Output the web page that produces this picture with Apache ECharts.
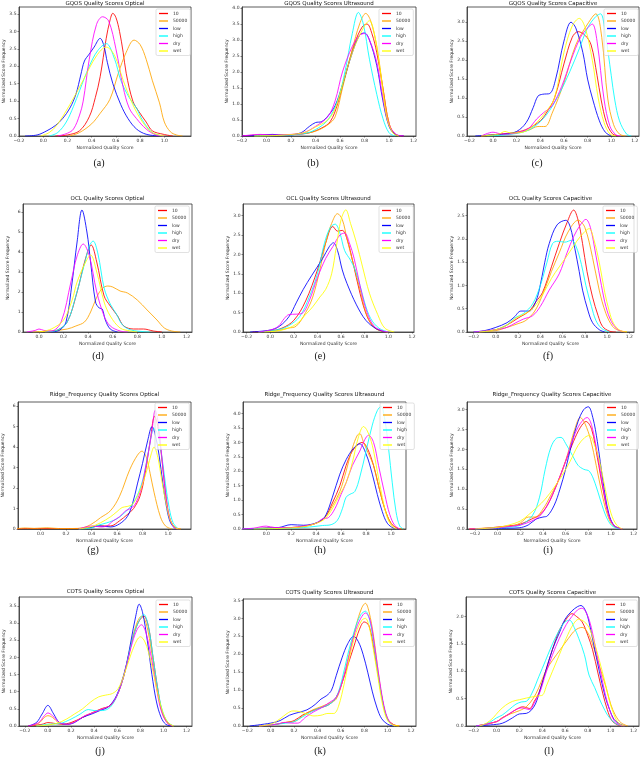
<!DOCTYPE html>
<html>
<head>
<meta charset="utf-8">
<title>Quality score distributions</title>
<script src="https://cdn.jsdelivr.net/npm/echarts@6/dist/echarts.min.js"></script>
<style>
  html, body { margin: 0; padding: 0; background: #fff; }
  #chart { width: 640px; height: 761px; }
</style>
</head>
<body>
<div id="chart"></div>
<script>
// legend order, same in every panel
const seriesNames = ['10', '50000', 'low', 'high', 'dry', 'wet'];
const seriesColors = ['#ff0000', '#ffa500', '#0000ff', '#00ffff', '#ff00ff', '#ffff00'];

const titles = [
  'GQOS Quality Scores Optical', 'GQOS Quality Scores Ultrasound', 'GQOS Quality Scores Capacitive',
  'OCL Quality Scores Optical', 'OCL Quality Scores Ultrasound', 'OCL Quality Scores Capacitive',
  'Ridge_Frequency Quality Scores Optical', 'Ridge_Frequency Quality Scores Ultrasound', 'Ridge_Frequency Quality Scores Capacitive',
  'COTS Quality Scores Optical', 'COTS Quality Scores Ultrasound', 'COTS Quality Scores Capacitive'
];
const captions = ['(a)', '(b)', '(c)', '(d)', '(e)', '(f)', '(g)', '(h)', '(i)', '(j)', '(k)', '(l)'];

// curves per panel, in seriesNames order; points are [score, density]
const gqosOptical = [
  [[0.1,0],[0.2,0.03],[0.3,0.15],[0.38,0.55],[0.43,1.1],[0.47,1.7],[0.52,2.8],[0.55,3.3],[0.575,3.52],[0.6,3.4],[0.63,3.0],[0.66,2.4],[0.685,1.8],[0.74,1.0],[0.79,0.7],[0.85,0.4],[0.9,0.15],[0.99,0.05],[1.07,0]],
  [[0.22,0],[0.3,0.1],[0.4,0.35],[0.47,0.65],[0.55,1.05],[0.62,1.8],[0.685,2.4],[0.75,2.75],[0.8,2.62],[0.85,2.2],[0.9,1.6],[0.96,0.95],[1.0,0.4],[1.05,0.12],[1.1,0.03],[1.15,0]],
  [[-0.15,0],[-0.05,0.03],[0.03,0.15],[0.1,0.3],[0.16,0.5],[0.22,0.8],[0.27,1.2],[0.31,1.75],[0.34,2.15],[0.38,2.35],[0.42,2.55],[0.47,2.8],[0.5,2.6],[0.53,2.1],[0.575,1.5],[0.64,0.9],[0.7,0.5],[0.77,0.2],[0.85,0.05],[0.96,0]],
  [[0.05,0],[0.12,0.1],[0.19,0.4],[0.25,0.85],[0.3,1.3],[0.38,2.0],[0.45,2.45],[0.52,2.65],[0.59,2.2],[0.64,1.6],[0.71,1.1],[0.77,0.8],[0.82,0.45],[0.9,0.1],[0.99,0]],
  [[0.12,0],[0.2,0.08],[0.25,0.2],[0.3,0.6],[0.33,1.0],[0.38,2.2],[0.44,3.2],[0.49,3.42],[0.54,3.3],[0.6,2.5],[0.66,1.4],[0.71,0.8],[0.77,0.5],[0.85,0.2],[0.93,0.03],[1.0,0]],
  [[-0.02,0],[0.05,0.1],[0.11,0.3],[0.22,0.9],[0.33,1.6],[0.44,2.3],[0.52,2.55],[0.59,2.3],[0.66,1.6],[0.74,0.9],[0.82,0.4],[0.9,0.1],[1.0,0]]
];
const gqosUltrasound = [
  [[-0.2,0],[-0.05,0.03],[0.1,0.03],[0.25,0.05],[0.35,0.1],[0.45,0.25],[0.52,0.45],[0.58,1.0],[0.65,2.0],[0.72,2.9],[0.78,3.4],[0.82,3.5],[0.86,3.2],[0.9,2.6],[0.95,1.5],[1.0,0.4],[1.05,0.05],[1.12,0]],
  [[-0.1,0],[0.1,0.02],[0.3,0.08],[0.4,0.15],[0.5,0.35],[0.56,0.6],[0.62,1.5],[0.7,2.7],[0.76,3.5],[0.81,3.83],[0.85,3.6],[0.9,2.8],[0.95,1.5],[1.0,0.4],[1.05,0.05],[1.1,0]],
  [[-0.2,0],[-0.05,0.03],[0.05,0.05],[0.15,0.02],[0.28,0.1],[0.35,0.3],[0.4,0.42],[0.45,0.45],[0.5,0.62],[0.56,0.95],[0.62,1.6],[0.7,2.6],[0.76,3.15],[0.8,3.22],[0.84,3.0],[0.9,2.2],[0.95,1.1],[1.0,0.3],[1.05,0.05],[1.12,0]],
  [[-0.1,0],[0.1,0.02],[0.3,0.07],[0.4,0.2],[0.5,0.5],[0.58,1.1],[0.64,2.0],[0.7,3.2],[0.75,3.86],[0.79,3.5],[0.84,2.4],[0.9,1.3],[0.95,0.55],[1.0,0.1],[1.05,0]],
  [[-0.2,0],[-0.05,0.05],[0.05,0.03],[0.2,0.05],[0.3,0.1],[0.4,0.3],[0.5,0.6],[0.56,1.1],[0.62,2.0],[0.7,2.8],[0.76,3.15],[0.8,3.2],[0.84,3.0],[0.9,2.3],[0.95,1.2],[1.0,0.35],[1.06,0.05],[1.12,0]],
  [[-0.1,0],[0.1,0.02],[0.3,0.1],[0.4,0.28],[0.5,0.5],[0.56,0.85],[0.62,1.6],[0.7,2.6],[0.78,3.3],[0.84,3.6],[0.88,3.2],[0.93,2.0],[0.98,0.6],[1.03,0.1],[1.08,0]]
];
const gqosCapacitive = [
  [[-0.1,0],[0.05,0.05],[0.2,0.1],[0.3,0.2],[0.4,0.4],[0.45,0.6],[0.52,1.0],[0.6,1.9],[0.67,2.6],[0.72,2.75],[0.78,2.65],[0.83,2.4],[0.88,1.6],[0.915,0.95],[0.96,0.35],[1.01,0.06],[1.06,0]],
  [[-0.1,0],[0.05,0.03],[0.2,0.08],[0.3,0.15],[0.38,0.25],[0.44,0.25],[0.5,0.6],[0.6,1.4],[0.7,2.4],[0.8,2.95],[0.87,3.22],[0.92,2.6],[0.97,1.0],[1.02,0.3],[1.07,0.05],[1.12,0]],
  [[-0.15,0],[0.0,0.03],[0.1,0.05],[0.2,0.12],[0.28,0.35],[0.34,0.75],[0.38,1.05],[0.42,1.1],[0.48,1.12],[0.53,1.5],[0.6,2.5],[0.66,3.0],[0.7,2.85],[0.76,2.2],[0.8,1.5],[0.845,0.95],[0.9,0.4],[0.95,0.1],[1.0,0]],
  [[-0.05,0],[0.1,0.03],[0.25,0.1],[0.35,0.25],[0.45,0.55],[0.55,1.05],[0.65,1.7],[0.73,2.3],[0.8,2.85],[0.87,3.15],[0.91,3.22],[0.95,2.7],[1.0,1.6],[1.03,0.95],[1.07,0.4],[1.13,0.05],[1.17,0]],
  [[-0.1,0],[0.0,0.1],[0.08,0.05],[0.2,0.08],[0.3,0.2],[0.37,0.45],[0.43,0.62],[0.5,0.8],[0.58,1.3],[0.66,2.0],[0.74,2.6],[0.8,2.85],[0.84,2.95],[0.88,2.5],[0.94,0.95],[0.99,0.25],[1.04,0.03],[1.08,0]],
  [[-0.1,0],[0.05,0.05],[0.1,0.12],[0.15,0.08],[0.25,0.1],[0.35,0.3],[0.45,0.65],[0.52,1.0],[0.6,2.2],[0.67,2.9],[0.73,3.1],[0.78,2.85],[0.84,2.0],[0.89,1.0],[0.94,0.35],[0.99,0.05],[1.04,0]]
];
const oclOptical = [
  [[0.05,0],[0.15,0.1],[0.23,0.5],[0.31,2.0],[0.38,3.7],[0.425,4.35],[0.47,3.5],[0.53,1.8],[0.58,1.3],[0.64,0.8],[0.69,0.3],[0.77,0.15],[0.85,0.15],[0.93,0.05],[1.0,0]],
  [[-0.05,0],[0.1,0.05],[0.23,0.15],[0.3,0.3],[0.37,0.5],[0.42,1.0],[0.46,1.6],[0.51,2.15],[0.56,2.3],[0.6,2.25],[0.66,2.05],[0.72,1.95],[0.8,1.6],[0.88,1.1],[0.96,0.6],[1.02,0.2],[1.08,0.05],[1.15,0]],
  [[0.1,0],[0.17,0.1],[0.22,0.5],[0.27,2.5],[0.31,4.5],[0.35,6.1],[0.39,5.0],[0.42,3.5],[0.46,1.5],[0.49,1.2],[0.515,1.15],[0.54,0.6],[0.58,0.15],[0.64,0]],
  [[0.05,0],[0.15,0.1],[0.23,0.5],[0.3,1.8],[0.37,3.4],[0.41,4.3],[0.44,4.55],[0.48,3.9],[0.53,2.2],[0.58,1.4],[0.63,0.9],[0.68,0.35],[0.75,0.1],[0.85,0.02],[0.9,0]],
  [[-0.1,0],[-0.03,0.08],[0.0,0.15],[0.04,0.08],[0.1,0.05],[0.18,0.5],[0.26,2.5],[0.31,3.8],[0.36,4.4],[0.41,3.8],[0.47,2.0],[0.53,0.8],[0.58,0.3],[0.66,0.05],[0.72,0]],
  [[0.0,0],[0.1,0.15],[0.2,0.6],[0.27,1.6],[0.31,2.5],[0.38,3.5],[0.42,3.85],[0.47,3.0],[0.53,1.5],[0.58,0.8],[0.66,0.2],[0.745,0.05],[0.8,0]]
];
const oclUltrasound = [
  [[-0.15,0],[0.0,0.03],[0.1,0.1],[0.2,0.3],[0.3,0.8],[0.4,1.6],[0.47,2.3],[0.53,2.72],[0.57,2.6],[0.61,2.62],[0.65,2.4],[0.7,1.8],[0.76,1.0],[0.82,0.4],[0.88,0.12],[0.95,0.02],[1.0,0]],
  [[-0.1,0],[0.05,0.03],[0.15,0.1],[0.22,0.15],[0.3,0.5],[0.36,0.9],[0.42,1.6],[0.47,2.3],[0.52,2.8],[0.57,3.05],[0.61,2.9],[0.65,2.4],[0.7,1.8],[0.76,1.1],[0.81,0.5],[0.87,0.15],[0.93,0.03],[1.0,0]],
  [[-0.17,0],[0.0,0.05],[0.08,0.15],[0.16,0.4],[0.22,0.75],[0.28,1.1],[0.35,1.45],[0.445,1.9],[0.5,2.2],[0.535,2.3],[0.57,2.1],[0.61,1.6],[0.65,1.25],[0.73,0.7],[0.81,0.3],[0.9,0.08],[0.98,0]],
  [[-0.1,0],[0.05,0.05],[0.15,0.15],[0.25,0.4],[0.33,0.9],[0.4,1.5],[0.46,2.3],[0.51,2.7],[0.55,2.78],[0.59,2.55],[0.63,2.1],[0.68,1.85],[0.72,1.6],[0.76,1.2],[0.8,0.75],[0.85,0.35],[0.92,0.1],[1.0,0]],
  [[-0.1,0],[0.0,0.05],[0.07,0.15],[0.12,0.35],[0.16,0.45],[0.22,0.46],[0.27,0.48],[0.33,0.8],[0.4,1.4],[0.47,1.9],[0.53,2.2],[0.59,2.5],[0.63,2.55],[0.67,2.3],[0.71,1.9],[0.76,1.2],[0.82,0.5],[0.88,0.15],[0.95,0.03],[1.0,0]],
  [[-0.05,0],[0.1,0.05],[0.22,0.2],[0.3,0.45],[0.36,0.65],[0.42,0.9],[0.47,1.1],[0.52,1.5],[0.56,2.2],[0.6,2.9],[0.64,3.15],[0.68,2.8],[0.73,2.3],[0.78,1.7],[0.84,1.0],[0.91,0.45],[0.97,0.1],[1.05,0]]
];
const oclCapacitive = [
  [[-0.2,0],[0.0,0.05],[0.1,0.15],[0.2,0.3],[0.3,0.45],[0.36,0.65],[0.42,0.85],[0.5,1.4],[0.57,1.9],[0.64,2.35],[0.7,2.62],[0.74,2.4],[0.78,1.9],[0.82,1.3],[0.87,0.75],[0.92,0.35],[0.96,0.12],[1.02,0.02],[1.08,0]],
  [[-0.2,0],[0.0,0.03],[0.1,0.1],[0.2,0.18],[0.27,0.25],[0.35,0.45],[0.42,0.8],[0.5,1.3],[0.57,1.7],[0.65,2.15],[0.74,2.4],[0.8,2.25],[0.87,1.6],[0.93,0.9],[0.99,0.4],[1.05,0.12],[1.1,0.04],[1.18,0]],
  [[-0.2,0],[-0.1,0.03],[0.0,0.1],[0.1,0.2],[0.165,0.32],[0.225,0.45],[0.3,0.45],[0.35,0.6],[0.39,0.9],[0.44,1.5],[0.48,1.9],[0.55,2.3],[0.63,2.4],[0.67,2.25],[0.71,1.8],[0.75,1.3],[0.78,0.9],[0.83,0.45],[0.87,0.2],[0.93,0.05],[0.98,0]],
  [[-0.2,0],[0.0,0.05],[0.1,0.15],[0.17,0.3],[0.25,0.4],[0.33,0.6],[0.4,1.0],[0.46,1.5],[0.51,1.9],[0.56,1.95],[0.62,1.93],[0.68,1.97],[0.72,1.85],[0.77,1.45],[0.81,1.0],[0.86,0.55],[0.9,0.25],[0.95,0.08],[1.02,0]],
  [[-0.2,0],[0.0,0.05],[0.1,0.1],[0.18,0.2],[0.25,0.28],[0.33,0.35],[0.4,0.55],[0.48,0.9],[0.57,1.25],[0.64,1.7],[0.7,2.05],[0.76,2.3],[0.81,2.42],[0.85,2.25],[0.9,1.65],[0.95,1.0],[0.99,0.55],[1.04,0.22],[1.1,0.05],[1.16,0]],
  [[-0.15,0],[0.0,0.05],[0.1,0.15],[0.18,0.3],[0.25,0.38],[0.33,0.5],[0.42,0.8],[0.5,1.15],[0.57,1.4],[0.63,1.6],[0.7,1.85],[0.76,2.05],[0.84,2.22],[0.88,2.0],[0.93,1.5],[0.98,0.85],[1.02,0.45],[1.06,0.18],[1.12,0.03],[1.18,0]]
];
const rfOptical = [
  [[-0.2,0],[-0.1,0.02],[0.2,0.02],[0.38,0.05],[0.45,0.15],[0.5,0.15],[0.55,0.15],[0.62,0.4],[0.68,0.7],[0.73,1.0],[0.78,1.6],[0.82,2.7],[0.86,4.3],[0.895,5.5],[0.92,5.0],[0.95,3.5],[0.98,1.8],[1.01,0.6],[1.05,0.1],[1.1,0]],
  [[-0.2,0],[-0.12,0.05],[-0.05,0.03],[0.05,0.06],[0.15,0.02],[0.3,0.03],[0.39,0.2],[0.47,0.55],[0.55,0.9],[0.62,1.6],[0.7,2.9],[0.76,3.6],[0.795,3.8],[0.83,3.5],[0.86,2.7],[0.89,1.8],[0.94,0.6],[0.98,0.15],[1.03,0]],
  [[0.3,0],[0.4,0.08],[0.46,0.15],[0.55,0.1],[0.62,0.25],[0.68,0.6],[0.72,1.2],[0.76,2.2],[0.8,3.2],[0.84,4.3],[0.875,5.0],[0.9,4.6],[0.93,3.6],[0.96,2.2],[0.99,1.0],[1.02,0.3],[1.06,0]],
  [[0.3,0],[0.4,0.05],[0.46,0.2],[0.52,0.3],[0.6,0.5],[0.66,0.8],[0.72,1.2],[0.77,1.8],[0.81,2.6],[0.85,3.9],[0.89,4.9],[0.92,4.6],[0.95,3.6],[0.98,2.2],[1.01,1.0],[1.04,0.3],[1.08,0]],
  [[0.3,0],[0.41,0.15],[0.47,0.1],[0.52,0.15],[0.57,0.4],[0.62,0.6],[0.67,0.9],[0.72,1.05],[0.75,1.3],[0.79,2.0],[0.83,3.2],[0.87,4.6],[0.9,5.8],[0.92,5.3],[0.95,3.6],[0.98,1.8],[1.01,0.6],[1.05,0.05],[1.08,0]],
  [[0.3,0],[0.39,0.1],[0.47,0.3],[0.55,0.6],[0.6,0.85],[0.64,1.05],[0.68,1.1],[0.72,1.2],[0.76,1.6],[0.8,2.2],[0.84,3.0],[0.87,3.7],[0.89,4.0],[0.92,3.5],[0.95,2.4],[0.99,1.1],[1.02,0.4],[1.06,0.05],[1.1,0]]
];
const rfUltrasound = [
  [[-0.2,0],[0.0,0.03],[0.2,0.05],[0.3,0.1],[0.4,0.2],[0.47,0.4],[0.53,0.9],[0.59,1.5],[0.64,2.2],[0.69,2.7],[0.74,2.95],[0.77,3.0],[0.81,2.8],[0.86,2.2],[0.9,1.5],[0.95,0.7],[1.0,0.2],[1.05,0.03],[1.1,0]],
  [[-0.2,0],[0.0,0.02],[0.2,0.04],[0.3,0.08],[0.4,0.2],[0.47,0.4],[0.53,0.8],[0.59,1.3],[0.64,2.0],[0.69,2.8],[0.73,3.25],[0.75,3.3],[0.78,3.0],[0.82,2.6],[0.86,2.2],[0.9,1.5],[0.95,0.7],[1.0,0.2],[1.05,0.03],[1.1,0]],
  [[-0.2,0],[0.0,0.03],[0.1,0.05],[0.2,0.15],[0.3,0.13],[0.37,0.17],[0.44,0.3],[0.48,0.5],[0.53,1.1],[0.59,1.9],[0.64,2.4],[0.7,2.8],[0.75,2.95],[0.8,2.6],[0.85,1.9],[0.89,1.2],[0.93,0.6],[0.97,0.2],[1.02,0.03],[1.06,0]],
  [[-0.2,0],[0.1,0.02],[0.3,0.05],[0.45,0.12],[0.52,0.15],[0.57,0.3],[0.61,0.7],[0.64,1.1],[0.67,1.2],[0.71,1.3],[0.75,1.8],[0.8,2.7],[0.85,3.6],[0.89,4.1],[0.92,4.25],[0.95,3.8],[0.98,2.8],[1.01,1.6],[1.04,0.6],[1.07,0.1],[1.1,0]],
  [[-0.2,0],[-0.1,0.03],[0.0,0.1],[0.07,0.05],[0.2,0.05],[0.3,0.1],[0.4,0.2],[0.45,0.35],[0.5,0.4],[0.55,0.7],[0.6,1.2],[0.64,1.6],[0.69,2.2],[0.75,2.7],[0.79,3.1],[0.82,3.25],[0.86,3.0],[0.9,2.2],[0.95,1.2],[0.99,0.5],[1.03,0.12],[1.07,0]],
  [[-0.1,0],[0.1,0.02],[0.3,0.08],[0.4,0.2],[0.47,0.35],[0.53,0.7],[0.59,1.2],[0.64,1.6],[0.69,2.3],[0.74,3.2],[0.78,3.55],[0.81,3.4],[0.85,2.9],[0.89,2.0],[0.93,1.1],[0.97,0.4],[1.01,0.08],[1.05,0]]
];
const rfCapacitive = [
  [[-0.25,0],[-0.1,0.02],[0.0,0.05],[0.1,0.08],[0.2,0.12],[0.3,0.25],[0.37,0.35],[0.44,0.6],[0.52,1.1],[0.6,1.7],[0.67,2.2],[0.73,2.55],[0.78,2.7],[0.83,2.5],[0.88,1.8],[0.93,1.0],[0.98,0.35],[1.03,0.08],[1.1,0]],
  [[-0.25,0],[0.0,0.04],[0.1,0.06],[0.2,0.15],[0.27,0.3],[0.33,0.3],[0.4,0.5],[0.47,0.85],[0.55,1.3],[0.62,1.9],[0.68,2.5],[0.73,2.8],[0.77,2.65],[0.82,2.25],[0.87,1.6],[0.92,0.9],[0.97,0.35],[1.02,0.08],[1.1,0]],
  [[-0.2,0],[0.1,0.02],[0.19,0.03],[0.27,0.1],[0.34,0.25],[0.4,0.3],[0.44,0.33],[0.5,0.6],[0.55,1.0],[0.6,1.5],[0.65,2.1],[0.71,2.7],[0.76,3.0],[0.8,3.07],[0.84,2.8],[0.88,2.2],[0.93,1.2],[0.98,0.4],[1.03,0.08],[1.1,0]],
  [[-0.2,0],[0.0,0.03],[0.13,0.05],[0.22,0.12],[0.31,0.35],[0.37,0.8],[0.42,1.5],[0.47,2.05],[0.52,2.28],[0.56,2.3],[0.6,2.15],[0.66,1.85],[0.71,1.6],[0.76,1.5],[0.81,1.45],[0.86,1.15],[0.91,0.7],[0.96,0.3],[1.01,0.08],[1.08,0]],
  [[-0.25,0],[0.0,0.03],[0.1,0.06],[0.2,0.1],[0.3,0.2],[0.37,0.32],[0.44,0.6],[0.52,1.1],[0.6,1.7],[0.67,2.3],[0.73,2.65],[0.79,2.8],[0.83,2.6],[0.88,1.9],[0.93,1.05],[0.98,0.35],[1.03,0.08],[1.1,0]],
  [[-0.2,0],[0.0,0.04],[0.1,0.1],[0.2,0.2],[0.27,0.35],[0.35,0.55],[0.42,0.75],[0.5,1.05],[0.57,1.35],[0.64,1.7],[0.71,2.1],[0.77,2.3],[0.81,2.35],[0.85,2.15],[0.9,1.7],[0.95,1.0],[1.0,0.4],[1.05,0.1],[1.1,0]]
];
const cotsOptical = [
  [[-0.17,0],[-0.05,0.05],[0.0,0.1],[0.05,0.08],[0.12,0.05],[0.2,0.1],[0.3,0.25],[0.38,0.38],[0.46,0.5],[0.54,0.6],[0.6,0.9],[0.66,1.5],[0.73,2.5],[0.78,3.0],[0.83,3.2],[0.87,2.9],[0.91,2.0],[0.95,1.1],[0.99,0.4],[1.04,0.08],[1.09,0]],
  [[-0.17,0],[-0.08,0.08],[-0.03,0.25],[0.0,0.3],[0.04,0.25],[0.1,0.08],[0.17,0.05],[0.25,0.15],[0.32,0.3],[0.4,0.4],[0.47,0.5],[0.54,0.6],[0.6,0.9],[0.66,1.5],[0.72,2.4],[0.77,3.0],[0.81,3.2],[0.85,3.0],[0.9,2.1],[0.94,1.2],[0.98,0.5],[1.03,0.1],[1.08,0]],
  [[-0.17,0],[-0.1,0.1],[-0.05,0.35],[0.0,0.6],[0.05,0.35],[0.1,0.1],[0.17,0.05],[0.23,0.1],[0.3,0.25],[0.38,0.35],[0.45,0.45],[0.52,0.55],[0.58,0.8],[0.63,1.2],[0.68,1.8],[0.72,2.5],[0.76,3.2],[0.79,3.55],[0.82,3.3],[0.86,2.5],[0.9,1.5],[0.94,0.7],[0.98,0.25],[1.02,0.05],[1.07,0]],
  [[-0.1,0],[0.0,0.05],[0.1,0.07],[0.2,0.2],[0.28,0.35],[0.35,0.48],[0.4,0.45],[0.47,0.45],[0.54,0.55],[0.6,0.9],[0.66,1.5],[0.73,2.5],[0.78,3.0],[0.83,3.25],[0.87,2.9],[0.91,2.0],[0.95,1.1],[0.99,0.45],[1.04,0.1],[1.09,0]],
  [[-0.17,0],[-0.08,0.1],[-0.03,0.3],[0.0,0.38],[0.04,0.3],[0.1,0.1],[0.17,0.05],[0.25,0.15],[0.32,0.3],[0.4,0.4],[0.47,0.5],[0.54,0.6],[0.6,0.9],[0.66,1.5],[0.72,2.3],[0.77,2.8],[0.81,2.95],[0.85,2.7],[0.9,1.9],[0.94,1.1],[0.98,0.45],[1.03,0.1],[1.08,0]],
  [[-0.1,0],[0.0,0.03],[0.08,0.08],[0.16,0.2],[0.23,0.35],[0.3,0.5],[0.37,0.7],[0.44,0.85],[0.5,0.9],[0.56,0.95],[0.61,1.1],[0.66,1.5],[0.72,2.1],[0.77,2.5],[0.8,2.6],[0.84,2.45],[0.89,1.9],[0.94,1.1],[0.99,0.45],[1.04,0.1],[1.09,0]]
];
const cotsUltrasound = [
  [[-0.1,0],[0.05,0.05],[0.13,0.1],[0.2,0.15],[0.27,0.3],[0.35,0.42],[0.42,0.5],[0.5,0.6],[0.56,0.8],[0.61,1.2],[0.66,1.7],[0.71,2.2],[0.76,2.7],[0.8,2.9],[0.84,2.8],[0.88,2.2],[0.92,1.4],[0.96,0.65],[1.0,0.2],[1.05,0.04],[1.1,0]],
  [[-0.1,0],[0.05,0.05],[0.12,0.1],[0.2,0.12],[0.28,0.3],[0.36,0.45],[0.44,0.55],[0.51,0.65],[0.56,0.75],[0.61,1.2],[0.67,2.0],[0.73,2.8],[0.78,3.3],[0.81,3.42],[0.84,3.2],[0.88,2.5],[0.92,1.5],[0.96,0.65],[1.0,0.2],[1.05,0.04],[1.1,0]],
  [[-0.18,0],[0.0,0.08],[0.08,0.15],[0.16,0.3],[0.24,0.38],[0.31,0.45],[0.38,0.6],[0.43,0.75],[0.48,0.85],[0.52,1.0],[0.56,1.4],[0.61,1.9],[0.66,2.3],[0.71,2.5],[0.75,2.35],[0.79,2.0],[0.83,1.5],[0.87,0.95],[0.91,0.5],[0.95,0.2],[1.0,0.05],[1.05,0]],
  [[-0.1,0],[0.05,0.05],[0.13,0.08],[0.2,0.12],[0.27,0.25],[0.35,0.4],[0.42,0.5],[0.5,0.6],[0.56,0.8],[0.61,1.3],[0.66,2.0],[0.72,2.7],[0.77,3.1],[0.81,3.2],[0.85,2.9],[0.89,2.1],[0.93,1.2],[0.97,0.5],[1.01,0.12],[1.06,0]],
  [[-0.1,0],[0.05,0.05],[0.12,0.1],[0.18,0.08],[0.23,0.08],[0.3,0.25],[0.37,0.4],[0.43,0.5],[0.5,0.65],[0.56,0.8],[0.61,1.2],[0.66,1.8],[0.72,2.6],[0.77,3.0],[0.81,3.15],[0.85,2.95],[0.89,2.2],[0.93,1.3],[0.97,0.55],[1.01,0.15],[1.06,0]],
  [[-0.1,0],[0.0,0.05],[0.08,0.2],[0.14,0.35],[0.19,0.42],[0.25,0.4],[0.31,0.33],[0.37,0.28],[0.43,0.3],[0.49,0.35],[0.54,0.35],[0.58,0.55],[0.63,1.2],[0.68,2.0],[0.73,2.6],[0.78,2.95],[0.81,3.0],[0.84,2.8],[0.88,2.1],[0.92,1.3],[0.96,0.55],[1.0,0.15],[1.05,0.02],[1.1,0]]
];
const cotsCapacitive = [
  [[-0.18,0],[0.0,0.08],[0.05,0.15],[0.11,0.22],[0.17,0.3],[0.23,0.35],[0.29,0.32],[0.33,0.45],[0.37,0.6],[0.43,1.0],[0.49,1.4],[0.55,1.75],[0.61,1.95],[0.66,2.05],[0.7,2.0],[0.75,1.9],[0.8,1.65],[0.84,1.4],[0.89,0.95],[0.93,0.6],[0.97,0.3],[1.01,0.1],[1.06,0.02],[1.1,0]],
  [[-0.18,0],[0.0,0.08],[0.05,0.15],[0.12,0.22],[0.2,0.28],[0.26,0.35],[0.32,0.5],[0.37,0.7],[0.43,1.0],[0.49,1.2],[0.56,1.4],[0.63,1.6],[0.69,1.75],[0.75,1.8],[0.8,1.7],[0.84,1.5],[0.9,1.1],[0.96,0.7],[1.0,0.4],[1.04,0.2],[1.09,0.06],[1.15,0]],
  [[-0.18,0],[0.0,0.03],[0.05,0.05],[0.1,0.1],[0.14,0.15],[0.2,0.22],[0.26,0.23],[0.3,0.28],[0.34,0.4],[0.38,0.65],[0.43,1.0],[0.49,1.4],[0.55,1.7],[0.6,1.95],[0.66,2.1],[0.71,2.18],[0.74,2.2],[0.78,2.1],[0.81,1.9],[0.85,1.5],[0.9,1.0],[0.95,0.55],[0.99,0.3],[1.03,0.12],[1.07,0.05],[1.12,0]],
  [[-0.18,0],[-0.12,0.02],[-0.05,0.08],[0.0,0.15],[0.05,0.2],[0.11,0.3],[0.17,0.4],[0.22,0.44],[0.26,0.45],[0.31,0.6],[0.37,0.9],[0.43,1.2],[0.49,1.5],[0.55,1.75],[0.6,1.9],[0.64,1.93],[0.68,1.8],[0.72,1.6],[0.77,1.3],[0.81,0.93],[0.86,0.7],[0.9,0.5],[0.95,0.28],[0.99,0.15],[1.04,0.05],[1.1,0]],
  [[-0.18,0],[0.0,0.08],[0.05,0.14],[0.11,0.22],[0.17,0.3],[0.22,0.33],[0.29,0.3],[0.33,0.42],[0.38,0.62],[0.43,0.95],[0.49,1.3],[0.55,1.6],[0.61,1.85],[0.66,2.0],[0.71,2.12],[0.75,2.15],[0.79,2.05],[0.83,1.8],[0.87,1.4],[0.91,1.0],[0.95,0.6],[0.99,0.3],[1.03,0.1],[1.08,0.02],[1.12,0]],
  [[-0.15,0],[-0.09,0.05],[-0.03,0.15],[0.02,0.27],[0.08,0.38],[0.14,0.45],[0.2,0.48],[0.26,0.51],[0.31,0.53],[0.36,0.55],[0.4,0.56],[0.44,0.75],[0.49,1.0],[0.55,1.3],[0.61,1.6],[0.67,1.85],[0.72,1.95],[0.77,1.9],[0.81,1.8],[0.86,1.5],[0.9,1.2],[0.95,0.8],[0.99,0.45],[1.03,0.2],[1.07,0.05],[1.12,0]]
];

// tick labels
const xTicksFull = [-0.2, 0, 0.2, 0.4, 0.6, 0.8, 1.0, 1.2];
const xTicksTo10 = [-0.2, 0, 0.2, 0.4, 0.6, 0.8, 1.0];
const xTicksPos12 = [0, 0.2, 0.4, 0.6, 0.8, 1.0, 1.2];
const xTicksPos10 = [0, 0.2, 0.4, 0.6, 0.8, 1.0];
const yTicks20 = [0, 0.5, 1.0, 1.5, 2.0];
const yTicks25 = [0, 0.5, 1.0, 1.5, 2.0, 2.5];
const yTicks30 = [0, 0.5, 1.0, 1.5, 2.0, 2.5, 3.0];
const yTicks35 = [0, 0.5, 1.0, 1.5, 2.0, 2.5, 3.0, 3.5];
const yTicks40 = [0, 0.5, 1.0, 1.5, 2.0, 2.5, 3.0, 3.5, 4.0];
const yTicksInt6 = [0, 1, 2, 3, 4, 5, 6];

const panelData = [gqosOptical, gqosUltrasound, gqosCapacitive, oclOptical, oclUltrasound, oclCapacitive,
  rfOptical, rfUltrasound, rfCapacitive, cotsOptical, cotsUltrasound, cotsCapacitive];
const xTickSets = [xTicksTo10, xTicksFull, xTicksFull, xTicksPos12, xTicksFull, xTicksFull,
  xTicksPos10, xTicksPos10, xTicksFull, xTicksFull, xTicksFull, xTicksFull];
const yTickSets = [yTicks35, yTicks40, yTicks30, yTicksInt6, yTicks30, yTicks25,
  yTicksInt6, yTicks40, yTicks30, yTicks35, yTicks35, yTicks20];

// panel geometry: plot box [left, top, width, height], x range, y max
const layout = [
  { box: [19, 7, 172, 129], xr: [-0.2, 1.22], yMax: 3.7, legend: [156, 9], titleY: 3.5, cap: [99, 163] },
  { box: [242, 7, 174, 129], xr: [-0.2, 1.22], yMax: 4.03, legend: [379, 9], titleY: 3.5, cap: [313, 163] },
  { box: [467, 7, 172, 129], xr: [-0.22, 1.235], yMax: 3.4, legend: [604, 9], titleY: 3.5, cap: [537, 163] },
  { box: [23, 204, 169, 128], xr: [-0.13, 1.245], yMax: 6.4, legend: [155, 206], titleY: 199, cap: [98, 356] },
  { box: [243, 204, 171, 128], xr: [-0.23, 1.217], yMax: 3.3, legend: [379, 206], titleY: 199, cap: [320, 356] },
  { box: [467, 204, 167, 128], xr: [-0.26, 1.243], yMax: 2.75, legend: [603, 206], titleY: 199, cap: [548, 356] },
  { box: [18, 402, 173, 127], xr: [-0.176, 1.18], yMax: 6.2, legend: [155, 403], titleY: 395, cap: [93, 550] },
  { box: [243, 402, 163, 127], xr: [-0.186, 1.12], yMax: 4.4, legend: [380, 403], titleY: 395, cap: [320, 550] },
  { box: [467, 402, 170, 127], xr: [-0.27, 1.23], yMax: 3.19, legend: [604, 403], titleY: 395, cap: [548, 550] },
  { box: [19, 597, 173, 129], xr: [-0.25, 1.247], yMax: 3.76, legend: [156, 600], titleY: 592, cap: [100, 751] },
  { box: [243, 599, 173, 127], xr: [-0.237, 1.243], yMax: 3.54, legend: [380, 600], titleY: 593, cap: [320, 751] },
  { box: [466, 597, 173, 129], xr: [-0.268, 1.248], yMax: 2.355, legend: [603, 600], titleY: 593, cap: [549, 751] }
];

const FONT = 'DejaVu Sans';
const INK = '#333';

// matplotlib style minus sign
const tickText = (v, dec) => (v < 0 ? '\u2212' : '') + Math.abs(v).toFixed(dec);

const chart = echarts.init(document.getElementById('chart'), null, { renderer: 'canvas' });

const grid = layout.map(p => ({
  left: p.box[0], top: p.box[1], width: p.box[2], height: p.box[3],
  show: true, borderColor: INK, borderWidth: 0.8, backgroundColor: 'transparent',
  containLabel: false, outerBoundsMode: 'none'
}));

const xAxis = layout.map((p, i) => ({
  type: 'value', gridIndex: i, min: p.xr[0], max: p.xr[1],
  splitLine: { show: false },
  axisLine: { show: true, onZero: false, lineStyle: { color: INK, width: 0.8 } },
  axisTick: { show: true, length: 1.5, customValues: xTickSets[i], lineStyle: { color: INK, width: 0.6 } },
  axisLabel: {
    customValues: xTickSets[i], fontSize: 4.5, margin: 2, color: INK, fontFamily: FONT,
    formatter: v => tickText(v, 1)
  },
  name: 'Normalized Quality Score', nameLocation: 'middle', nameGap: 9.5, nameMoveOverlap: false,
  nameTextStyle: { fontSize: 4.5, color: INK, fontFamily: FONT }
}));

const yAxis = layout.map((p, i) => {
  const dec = yTickSets[i] === yTicksInt6 ? 0 : 1;
  return {
    type: 'value', gridIndex: i, min: 0, max: p.yMax,
    splitLine: { show: false },
    axisLine: { show: true, onZero: false, lineStyle: { color: INK, width: 0.8 } },
    axisTick: { show: true, length: 1.5, customValues: yTickSets[i], lineStyle: { color: INK, width: 0.6 } },
    axisLabel: {
      customValues: yTickSets[i], fontSize: 4.5, margin: 2.5, color: INK, fontFamily: FONT,
      formatter: v => tickText(v, dec)
    },
    name: 'Normalized Score Frequency', nameLocation: 'middle', nameGap: 13, nameMoveOverlap: false,
    nameTextStyle: { fontSize: 4.5, color: INK, fontFamily: FONT }
  };
});

const series = [];
panelData.forEach((curves, i) => {
  curves.forEach((pts, j) => {
    series.push({
      type: 'line', name: seriesNames[j], xAxisIndex: i, yAxisIndex: i,
      data: pts, showSymbol: false, smooth: 0.35, silent: true,
      lineStyle: { color: seriesColors[j], width: 1, opacity: 0.85 },
      itemStyle: { color: seriesColors[j] }
    });
  });
});

const legend = layout.map(p => ({
  left: p.legend[0], top: p.legend[1], orient: 'vertical', data: seriesNames,
  icon: 'rect', itemWidth: 9, itemHeight: 1.3, itemGap: 2.5, padding: [2, 3, 2, 3],
  selectedMode: false,
  textStyle: { fontSize: 4.5, lineHeight: 5, color: INK, fontFamily: FONT },
  borderColor: '#cccccc', borderWidth: 0.6, borderRadius: 1.5,
  backgroundColor: 'rgba(255,255,255,0.8)'
}));

const graphic = [];
layout.forEach((p, i) => {
  graphic.push({
    type: 'text', x: p.box[0] + p.box[2] / 2, y: p.titleY, silent: true,
    style: { text: titles[i], fontSize: 5.5, fontFamily: FONT, fill: '#111', align: 'center', verticalAlign: 'middle' }
  });
  graphic.push({
    type: 'text', x: p.cap[0], y: p.cap[1], silent: true,
    style: { text: captions[i], fontSize: 10, fontFamily: 'Liberation Serif', fill: '#111', align: 'center', verticalAlign: 'middle' }
  });
});

chart.setOption({
  animation: false,
  backgroundColor: '#fff',
  grid, xAxis, yAxis, series, legend, graphic
});
</script>
</body>
</html>
